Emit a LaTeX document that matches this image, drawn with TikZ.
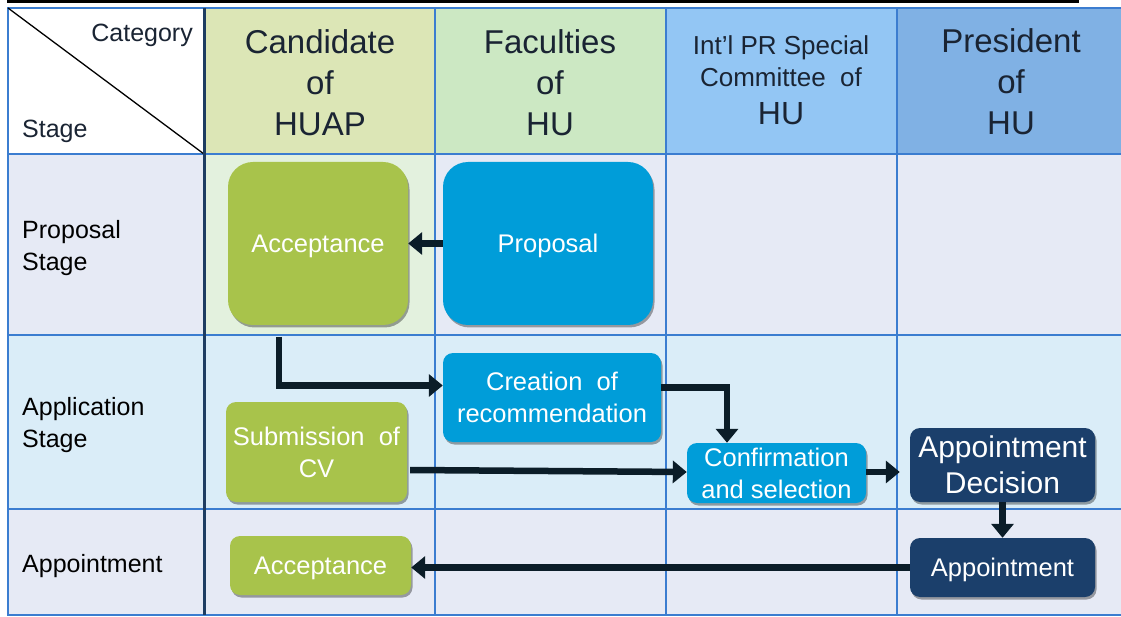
\documentclass[tikz,border=0pt]{standalone}
\usepackage{fontspec}
\setmainfont{Liberation Sans}
\usetikzlibrary{arrows.meta,shadows,calc}
\definecolor{gridc}{HTML}{3B7DD0}
\definecolor{navyline}{HTML}{1E3D62}
\definecolor{hA}{HTML}{DCE6B6}
\definecolor{hB}{HTML}{CCE8C3}
\definecolor{hC}{HTML}{93C6F4}
\definecolor{hD}{HTML}{80B1E4}
\definecolor{lav}{HTML}{E6EAF5}
\definecolor{lblue}{HTML}{DAEDF8}
\definecolor{lgreen}{HTML}{E3F1DE}
\definecolor{gnode}{HTML}{A8C34B}
\definecolor{bnode}{HTML}{009DD9}
\definecolor{nnode}{HTML}{1B3F6B}
\definecolor{arrowc}{HTML}{0B1D28}
\definecolor{hdrtext}{HTML}{1A2433}
\begin{document}
\begin{tikzpicture}[x=1pt,y=-1pt,
  gridline/.style={draw=gridc,line width=1.8pt},
  hdr/.style={text=hdrtext,align=center,inner sep=0pt,font=\fontsize{33}{41}\selectfont},
  lbl/.style={text=black,align=left,inner sep=0pt,font=\fontsize{25}{31.5}\selectfont},
  box/.style={rectangle,inner sep=0pt,text=white,align=center,text depth=0pt,
    font=\fontsize{25.5}{32}\selectfont,rounded corners=10pt,
    drop shadow={shadow xshift=1.5pt,shadow yshift=-2.5pt,opacity=0.35,fill=black}},
  gbox/.style={box,fill=gnode},
  bbox/.style={box,fill=bnode},
  nbox/.style={box,fill=nnode},
  flow/.style={draw=arrowc,line width=6.5pt,-{Triangle[length=14pt,width=22pt]}}
]
\useasboundingbox (0,0) rectangle (1121,617);
\fill[white] (0,0) rectangle (1121,617);
% top black bar
\fill[black] (7,0) rectangle (1079,2.8);
% header cells
\fill[white] (8,8) rectangle (204,154);
\fill[hA] (204,8) rectangle (435,154);
\fill[hB] (435,8) rectangle (666,154);
\fill[hC] (666,8) rectangle (897,154);
\fill[hD] (897,8) rectangle (1121,154);
% row 1
\fill[lav] (8,154) rectangle (1121,335);
\fill[lgreen] (204,154) rectangle (435,335);
% row 2
\fill[lblue] (8,335) rectangle (1121,509);
% row 3
\fill[lav] (8,509) rectangle (1121,615);
% grid
\draw[gridline] (1121,8) -- (8,8) -- (8,615) -- (1121,615);
\foreach \yy in {154,335,509} \draw[gridline] (8,\yy) -- (1121,\yy);
\foreach \xx in {435,666,897} \draw[gridline] (\xx,8) -- (\xx,615);
\draw[black,line width=1.3pt] (8,8) -- (204,154);
\draw[navyline,line width=3pt] (204,8) -- (204,615);
% header texts
\node[text=hdrtext,anchor=base east,inner sep=0pt,font=\fontsize{25}{30}\selectfont] (cat) at (193,42) {Category};
\node[text=hdrtext,anchor=base west,inner sep=0pt,font=\fontsize{25}{30}\selectfont] (stg) at (22,138) {Stage};
\node[hdr] (h1) at (320,83) {Candidate\\of\\HUAP};
\node[hdr] (h2) at (550,83) {Faculties\\of\\HU};
\node[hdr,font=\fontsize{26}{32}\selectfont] (h3) at (781,80) {Int’l PR Special\\Committee\ \ of\\[6pt]{\fontsize{32}{38}\selectfont HU}};
\node[hdr] (h4) at (1011,82) {President\\of\\HU};
% row labels
\node[lbl,anchor=west] (r1) at (22,248) {Proposal\\Stage};
\node[lbl,anchor=west] (r2) at (22,425) {Application\\Stage};
\node[lbl,anchor=base west] (r3) at (22,572) {Appointment};
% process boxes
\node[gbox,rounded corners=25pt,minimum width=180pt,minimum height=163pt] (acc1) at (318,243.5) {Acceptance};
\node[bbox,rounded corners=25pt,minimum width=210pt,minimum height=163pt] (prop) at (548,243.5) {Proposal};
\node[bbox,minimum width=218pt,minimum height=89pt] (creat) at (552,397.5) {Creation\ \ of\\recommendation};
\node[gbox,minimum width=181pt,minimum height=100pt] (subm) at (316.5,452) {Submission\ \ of\\CV};
\node[bbox,minimum width=179pt,minimum height=60pt] (conf) at (776.5,473) {Confirmation\\and selection};
\node[nbox,minimum width=185pt,minimum height=74pt,font=\fontsize{30}{36}\selectfont] (apdec) at (1002.5,465) {Appointment\\Decision};
\node[nbox,minimum width=185pt,minimum height=59pt] (appt) at (1002.5,567.5) {Appointment};
\node[gbox,minimum width=181pt,minimum height=59pt] (acc3) at (320.5,565.5) {Acceptance};
% connectors
\coordinate (t1) at (279,337);
\draw[flow] (prop.west) -- (acc1.east);
\draw[flow] (t1) |- ($(creat.west)+(0,-12)$);
\draw[flow] ($(creat.east)+(0,-10)$) -| ($(conf.north)+(-49.5,0)$);
\draw[flow] ($(subm.east)+(3,18)$) -- ($(conf.west)+(0,-1)$);
\draw[flow,shorten >=10pt] ($(conf.east)+(0,-1)$) -- ($(conf.east -| apdec.west)+(0,-1)$);
\draw[flow] (apdec.south) -- (appt.north);
\draw[flow] (appt.west) -- (appt.west -| acc3.east);
\end{tikzpicture}
\end{document}
